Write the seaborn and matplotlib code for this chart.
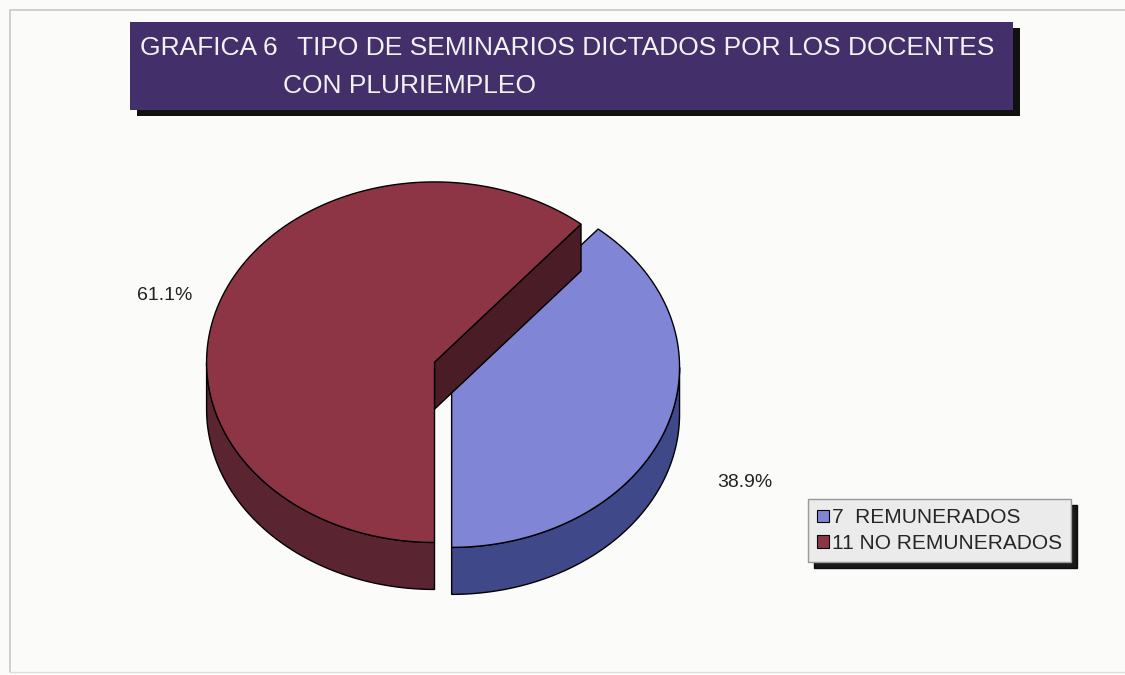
import numpy as np
import matplotlib
matplotlib.use("Agg")
import matplotlib.pyplot as plt
import seaborn as sns
from matplotlib.patches import Polygon, Rectangle

sns.set_style("white")
plt.rcParams['font.family'] = ['Liberation Sans', 'DejaVu Sans']

# data
categories = ["REMUNERADOS", "NO REMUNERADOS"]
counts = [7, 11]
title_head = "GRAFICA 6"
title_lines = ["TIPO DE SEMINARIOS DICTADOS POR LOS DOCENTES", "CON PLURIEMPLEO"]
top_colors = ["#8085d6", "#8d3545"]
side_colors = ["#3f4888", "#5a2430"]
cut_colors = ["#2f3670", "#4a1c25"]
explode = [0.08, 0.0]
label_offsets = [(79, -30), (-56, 29)]   # px from the rim to the percentage label

tilt = 0.79     # squash of the top ellipse
depth = 0.206   # thickness of the pie

fig = plt.figure(figsize=(11.25, 6.75), dpi=100, facecolor="#fbfbfa")

# decoration layer in pixel units
bg = fig.add_axes([0, 0, 1, 1])
bg.set_xlim(0, 1125)
bg.set_ylim(675, 0)
bg.axis("off")
bg.plot([10, 10, 1125], [672, 10, 10], color="#c8c8c8", lw=1.2)
bg.plot([10, 1125], [672, 672], color="#dddddd", lw=1.0)

# title box with shadow
bg.add_patch(Rectangle((137, 28), 883, 88, facecolor="#111111", edgecolor="none"))
bg.add_patch(Rectangle((130, 22), 883, 88, facecolor="#43306b", edgecolor="none"))
tkw = dict(color="#f2f2f2", fontsize=19, va="center", ha="left")
bg.text(140, 48, title_head, **tkw)
bg.text(297, 48, title_lines[0], **tkw)
bg.text(283, 86, title_lines[1], **tkw)

# pie axes, 228 px per unit both ways
ax = fig.add_axes([161 / 1125, 39 / 675, 547 / 1125, 502 / 675])
ax.set_xlim(-1.2, 1.2)
ax.set_ylim(-1.2, 1.0)
ax.axis("off")

total = sum(counts)
angles = np.cumsum([0] + [c / total * 360 for c in counts]) - 90

def pt(t, cx, cy, dz=0.0):
    r = np.radians(t)
    return cx + np.cos(r), cy + tilt * np.sin(r) - dz

handles = []
for i, c in enumerate(counts):
    t1, t2 = angles[i], angles[i + 1]
    mid = np.radians((t1 + t2) / 2)
    cx = explode[i] * np.cos(mid)
    cy = explode[i] * tilt * np.sin(mid)
    ts = np.linspace(t1, t2, 300)

    # outer wall (front half only)
    vis = ts[np.sin(np.radians(ts)) <= 1e-9]
    if len(vis) > 1:
        xs, ys = pt(vis, cx, cy)
        xb, yb = pt(vis[::-1], cx, cy, depth)
        ax.add_patch(Polygon(np.column_stack([np.r_[xs, xb], np.r_[ys, yb]]),
                             facecolor=side_colors[i], edgecolor="black", lw=1.0))

    # radial cut faces
    for t, nrm in ((t1, t1 - 90), (t2, t2 + 90)):
        if np.sin(np.radians(nrm)) < -1e-6:
            ex, ey = pt(t, cx, cy)
            poly = [(cx, cy), (ex, ey), (ex, ey - depth), (cx, cy - depth)]
            ax.add_patch(Polygon(poly, facecolor=cut_colors[i], edgecolor="black", lw=1.0))

    # top face
    xs, ys = pt(ts, cx, cy)
    top = Polygon(np.column_stack([np.r_[cx, xs], np.r_[cy, ys]]),
                  facecolor=top_colors[i], edgecolor="black", lw=1.0)
    ax.add_patch(top)
    handles.append(top)

    # percentage label, pushed out from the rim at mid height
    rx, ry = pt(np.degrees(mid), cx, cy, depth / 2)
    ax.annotate(f"{c / total * 100:.1f}%", (rx, ry),
                xytext=label_offsets[i], textcoords="offset pixels",
                ha="center", va="center", fontsize=14, color="#222222")

labels = [f"{c:<3d}{name}" if c < 10 else f"{c} {name}" for c, name in zip(counts, categories)]
leg = fig.legend(handles, labels, loc="upper left",
                 bbox_to_anchor=(808 / 1125, 1 - 499 / 675),
                 frameon=True, fancybox=False, shadow={"color": "black", "ox": 4, "oy": -4, "alpha": 0.9},
                 facecolor="#ebebeb", edgecolor="#999999", framealpha=1,
                 fontsize=15, handlelength=0.55, handleheight=0.55, handletextpad=0.15,
                 borderpad=0.45, labelspacing=0.3, borderaxespad=0)
for h in leg.legend_handles:
    h.set_linewidth(0.8)

fig.savefig("out.png", dpi=100, facecolor=fig.get_facecolor())
